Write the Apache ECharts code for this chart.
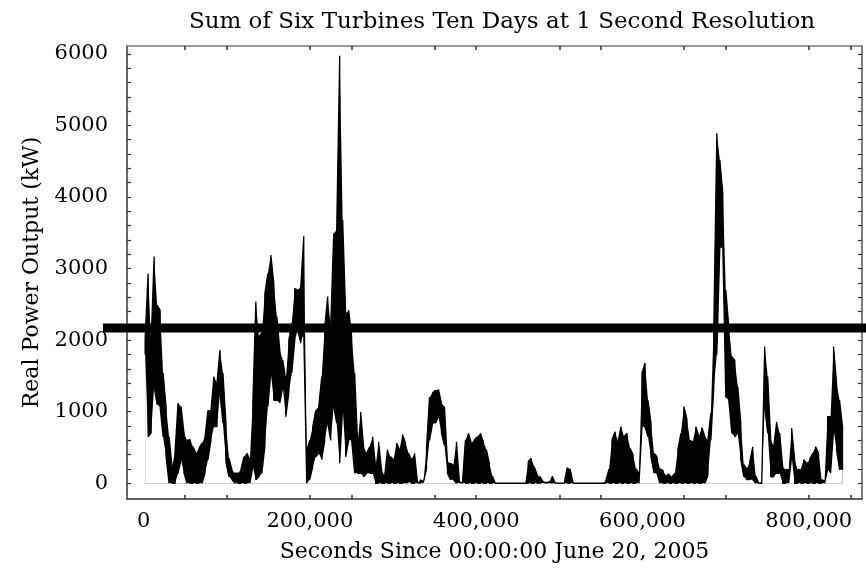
<!DOCTYPE html>
<html><head><meta charset="utf-8">
<script src="https://cdn.jsdelivr.net/npm/echarts@6/dist/echarts.min.js"></script>
<style>html,body{margin:0;padding:0;background:#fff}#c{width:866px;height:571px}</style>
</head><body><div id="c"></div>
<script>
// hourly bins (3600 s): minimum and maximum of the 1-second summed output, kW
const binSeconds = 3600;
const hourlyLow = [
1800,650,700,1350,1100,1070,650,370,0,0,
0,140,330,140,0,0,0,0,0,0,
140,330,600,790,790,1260,840,300,90,50,
0,0,0,0,0,0,230,50,90,140,
510,1070,1540,1160,1160,1120,1350,930,1260,1540,
2000,2140,1960,2100,0,50,230,370,420,330,
600,840,600,1070,840,280,1070,370,600,600,
140,140,140,90,140,140,140,0,0,0,
0,0,0,0,0,0,0,0,20,0,
0,0,0,0,200,600,830,840,930,700,
530,140,50,50,0,0,0,0,0,0,
0,0,0,0,0,0,0,0,0,0,
0,0,0,0,0,0,0,0,0,0,
0,0,0,0,0,0,0,0,0,0,
0,0,0,0,0,0,0,0,0,0,
0,0,0,0,0,0,0,0,0,0,
0,0,0,0,0,0,790,790,650,370,
140,140,0,0,0,0,0,0,0,0,
0,0,0,0,0,0,0,0,100,600,
1350,1800,3290,3290,1200,1160,700,650,700,330,
90,50,50,50,0,0,0,1070,700,90,
90,140,140,0,0,0,370,0,0,0,
0,0,0,0,0,0,0,0,190,140,
750,470,190,190
];
const hourlyHigh = [
2030,2930,1960,3170,2490,2420,1540,1070,650,230,
440,1120,1070,700,600,610,510,420,490,560,
650,1020,1020,1490,1400,1860,1540,840,350,190,
140,140,190,370,420,330,1160,2540,2050,2100,
2650,2930,3190,2790,2330,1860,1720,1440,2000,2240,
2720,2700,2750,3450,460,600,790,1020,1070,1490,
2190,2610,2190,3490,3540,5975,3680,2370,2420,2050,
1540,560,1000,510,420,510,650,230,580,190,
100,470,370,330,560,470,680,560,420,330,
420,10,50,20,490,1200,1260,1300,1310,1120,
1070,300,280,250,580,20,20,600,700,560,
610,650,700,580,470,280,100,0,0,0,
0,0,0,0,0,0,0,0,300,350,
230,120,90,20,20,20,100,0,0,0,
0,220,200,0,0,0,0,0,0,0,
0,0,0,0,50,200,610,720,580,790,
650,700,490,400,200,140,1540,1680,1160,840,
420,370,200,180,100,130,90,140,470,700,
1070,900,600,580,790,650,780,650,600,980,
2240,4890,4520,4050,2700,2190,1770,1720,1350,840,
260,200,300,510,100,0,20,1910,1490,610,
510,860,700,230,190,190,770,330,190,190,
330,280,330,420,510,420,50,30,930,930,
1910,1400,1160,790
];
const thresholdKW = [2170, 2170];

const xLabelValues = [0, 200000, 400000, 600000, 800000];
const xTickValues = [50000, 100000, 200000, 250000, 350000, 400000, 500000, 550000, 650000, 700000, 800000, 850000];
const yLabelValues = [0, 1000, 2000, 3000, 4000, 5000, 6000];
const yTickValues = [0,200,400,600,800,1000,1200,1400,1600,1800,2000,2200,2400,2600,2800,3000,
  3200,3400,3600,3800,4000,4200,4400,4600,4800,5000,5200,5400,5600,5800,6000];

const FONT = 'DejaVu Serif';
const X_MIN = -20000, X_MAX = 864000, Y_MIN = -220, Y_MAX = 6110;

// band between the hourly min and max envelopes (max area in black, min area masked in white),
// plus a trace of vertical min-to-max strokes joined in alternating direction
const powerTrace = [];
const maxEnvelope = [];
const minEnvelope = [];
for (let k = 0; k < hourlyLow.length; k++) {
  const t = k * binSeconds + binSeconds / 2;
  maxEnvelope.push([t, hourlyHigh[k]]);
  minEnvelope.push([t, hourlyLow[k]]);
  if (k % 2 === 0) { powerTrace.push([t, hourlyLow[k]], [t, hourlyHigh[k]]); }
  else { powerTrace.push([t, hourlyHigh[k]], [t, hourlyLow[k]]); }
}

const fmtX = v => String(v).replace(/\B(?=(\d{3})+(?!\d))/g, ',');
const fmtY = v => String(v);

const chart = echarts.init(document.getElementById('c'), null, {renderer: 'canvas'});
chart.setOption({
  animation: false,
  backgroundColor: '#fff',
  title: {
    text: 'Sum of Six Turbines Ten Days at 1 Second Resolution',
    left: 497, top: 6, textAlign: 'center',
    textStyle: {fontFamily: FONT, fontSize: 23, fontWeight: 'normal', color: '#000'}
  },
  grid: [
    {left: 127, right: 4, top: 46, bottom: 72},
    {left: 103, right: 0, top: 46, bottom: 72}
  ],
  xAxis: [
    {
      type: 'value', gridIndex: 0, min: X_MIN, max: X_MAX, position: 'bottom',
      name: 'Seconds Since 00:00:00 June 20, 2005', nameLocation: 'middle', nameGap: 42,
      nameTextStyle: {fontFamily: FONT, fontSize: 22, color: '#000'},
      axisLine: {show: true, onZero: false, lineStyle: {color: '#333', width: 1.5}},
      axisTick: {show: true, inside: true, length: 4, customValues: xTickValues, lineStyle: {color: '#333', width: 1.5}},
      axisLabel: {show: true, customValues: xLabelValues, margin: 12, formatter: fmtX,
        fontFamily: FONT, fontSize: 21, color: '#000'},
      splitLine: {show: false}
    },
    {
      type: 'value', gridIndex: 0, min: X_MIN, max: X_MAX, position: 'top',
      axisLine: {show: true, onZero: false, lineStyle: {color: '#777', width: 1.5}},
      axisTick: {show: true, inside: true, length: 4, customValues: xTickValues, lineStyle: {color: '#333', width: 1.5}},
      axisLabel: {show: false}, splitLine: {show: false}
    },
    {type: 'value', gridIndex: 1, min: 0, max: 1, show: false}
  ],
  yAxis: [
    {
      type: 'value', gridIndex: 0, min: Y_MIN, max: Y_MAX, position: 'left',
      name: 'Real Power Output (kW)', nameLocation: 'middle', nameGap: 84,
      nameTextStyle: {fontFamily: FONT, fontSize: 22, color: '#000'},
      axisLine: {show: true, onZero: false, lineStyle: {color: '#333', width: 1.5}},
      axisTick: {show: true, inside: true, length: 4, customValues: yTickValues, lineStyle: {color: '#333', width: 1.2}},
      axisLabel: {show: true, customValues: yLabelValues, margin: 19, formatter: fmtY,
        fontFamily: FONT, fontSize: 21, color: '#000'},
      splitLine: {show: false}
    },
    {
      type: 'value', gridIndex: 0, min: Y_MIN, max: Y_MAX, position: 'right',
      axisLine: {show: true, onZero: false, lineStyle: {color: '#555', width: 1.5}},
      axisTick: {show: true, inside: true, length: 4, customValues: yTickValues, lineStyle: {color: '#333', width: 1.2}},
      axisLabel: {show: false}, splitLine: {show: false}
    },
    {type: 'value', gridIndex: 1, min: Y_MIN, max: Y_MAX, show: false}
  ],
  series: [
    {
      type: 'line', xAxisIndex: 0, yAxisIndex: 0, data: maxEnvelope, z: 2,
      symbol: 'none', showSymbol: false, silent: true,
      lineStyle: {width: 0, color: '#000'},
      areaStyle: {color: '#000', opacity: 1, origin: 0}
    },
    {
      type: 'line', xAxisIndex: 0, yAxisIndex: 0, data: minEnvelope, z: 3,
      symbol: 'none', showSymbol: false, silent: true,
      lineStyle: {width: 0, color: '#fff'},
      areaStyle: {color: '#fff', opacity: 1, origin: 0}
    },
    {
      type: 'line', xAxisIndex: 0, yAxisIndex: 0, data: powerTrace, z: 4,
      symbol: 'none', showSymbol: false, silent: true,
      lineStyle: {color: '#000', width: 1.3}
    },
    {
      type: 'line', xAxisIndex: 2, yAxisIndex: 2, z: 10, silent: true,
      data: [[0, thresholdKW[0]], [1, thresholdKW[1]]],
      symbol: 'none', showSymbol: false,
      lineStyle: {color: '#000', width: 9, cap: 'butt'}
    }
  ]
});
</script>
</body></html>
